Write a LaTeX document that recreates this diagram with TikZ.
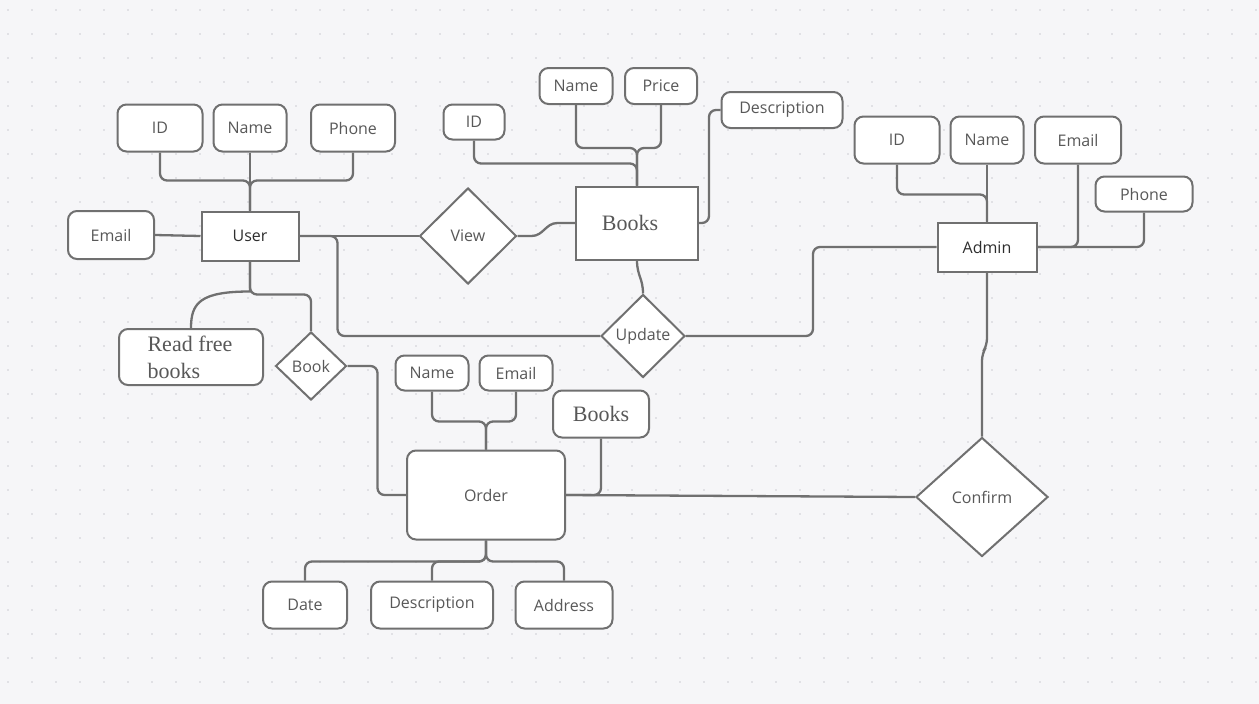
\documentclass[tikz,border=0pt]{standalone}
\usepackage{fontspec}
\setmainfont{Open Sans}
\newfontfamily\serifb{Liberation Serif}
\usetikzlibrary{shapes.geometric}
\definecolor{bgc}{RGB}{246,246,248}
\definecolor{dotc}{RGB}{205,205,210}
\definecolor{linec}{RGB}{112,112,112}
\definecolor{txtc}{RGB}{88,88,88}
\definecolor{darktxt}{RGB}{45,45,45}
\pgfdeclarelayer{bg}
\pgfdeclarelayer{wires}
\pgfsetlayers{bg,wires,main}
\tikzset{
  base/.style={draw=linec, line width=2pt, fill=white, inner sep=0pt, text=txtc,
    font=\fontsize{16}{19}\selectfont},
  attr/.style={base, rectangle, rounded corners=9pt},
  ent/.style={base, rectangle, text=darktxt},
  rel/.style={base, diamond},
  conn/.style={draw=linec, line width=2.3pt, rounded corners=7pt},
  serifbig/.style={font=\serifb\fontsize{22}{27}\selectfont}
}
\begin{document}
\begin{tikzpicture}[x=1pt,y=-1pt]
\useasboundingbox (0,0) rectangle (1259,704);
\begin{pgfonlayer}{bg}
  \fill[bgc] (0,0) rectangle (1259,704);
  \foreach \i in {0,...,52}{
    \foreach \j in {0,...,29}{
      \fill[dotc] (\i*24+8,\j*24+10) circle (0.9pt);
    }
  }
\end{pgfonlayer}

% ---- User side ----
\node[attr, minimum width=85pt, minimum height=47pt] (uid) at (160,128) {ID};
\node[attr, minimum width=73pt, minimum height=47pt] (uname) at (250,128) {Name};
\node[attr, minimum width=84pt, minimum height=47pt] (uphone) at (353,128) {Phone};
\node[attr, minimum width=86pt, minimum height=48pt] (uemail) at (111,235) {Email};
\node[ent, minimum width=97pt, minimum height=49pt] (user) at (250,236) {User};
\node[attr, minimum width=144pt, minimum height=56pt, serifbig, align=left] (read) at (191,357) {Read free\hspace*{2pt}\\books};
\node[rel, minimum width=71pt, minimum height=68pt] (book) at (311,366) {Book};

% ---- Books side ----
\node[attr, minimum width=61pt, minimum height=35pt] (bid) at (474,122) {ID};
\node[attr, minimum width=73pt, minimum height=36pt] (bname) at (576,86) {Name};
\node[attr, minimum width=72pt, minimum height=36pt] (bprice) at (661,86) {Price};
\node[attr, minimum width=121pt, minimum height=36pt] (bdesc) at (782,110) {Description};
\node[ent, minimum width=122pt, minimum height=73pt, serifbig, text=txtc] (books) at (637,223) {\hspace*{-14pt}Books};
\node[rel, minimum width=97pt, minimum height=96pt] (view) at (468,236) {View};
\node[rel, minimum width=84pt, minimum height=83pt] (update) at (643,336) {Update};

% ---- Admin side ----
\node[attr, minimum width=85pt, minimum height=47pt] (aid) at (897,140) {ID};
\node[attr, minimum width=73pt, minimum height=47pt] (aname) at (987,140) {Name};
\node[attr, minimum width=86pt, minimum height=47pt] (aemail) at (1078,140) {Email};
\node[attr, minimum width=97pt, minimum height=35pt] (aphone) at (1144,194) {Phone};
\node[ent, minimum width=99pt, minimum height=49pt] (admin) at (987,247) {Admin};
\node[rel, minimum width=132pt, minimum height=119pt] (confirm) at (982,497) {Confirm};

% ---- Order side ----
\node[attr, minimum width=73pt, minimum height=35pt] (oname) at (432,373) {Name};
\node[attr, minimum width=73pt, minimum height=35pt] (oemail) at (516,373) {Email};
\node[attr, minimum width=96pt, minimum height=47pt, serifbig] (obooks) at (601,414) {Books};
\node[attr, minimum width=158pt, minimum height=89pt] (order) at (486,495) {Order};
\node[attr, minimum width=84pt, minimum height=47pt] (odate) at (305,605) {Date};
\node[attr, minimum width=122pt, minimum height=47pt] (odesc) at (432,605) {Description};
\node[attr, minimum width=97pt, minimum height=47pt] (oaddr) at (564,605) {Address};

\begin{pgfonlayer}{wires}
  % user
  \draw[conn] (uid.south) -- ++(0,28) -| (user.north);
  \draw[conn] (uname.south) -- (user.north);
  \draw[conn] (uphone.south) -- ++(0,28) -| (user.north);
  \draw[conn] (uemail.east) -- (user.west);
  \draw[conn, sharp corners] (user.south) -- ++(0,30) .. controls +(-50,0) and +(0,-25) .. (read.north);
  \draw[conn] (user.south) -- ++(0,33) -| (book.north);
  \draw[conn] (user.east) -- (view.west);
  \draw[conn] (user.east) -- ++(38,0) |- (update.west);
  % books
  \draw[conn] (bid.south) -- ++(0,23) -| (books.north);
  \draw[conn] (bname.south) -- ++(0,43) -| (books.north);
  \draw[conn] (bprice.south) -- ++(0,43) -| (books.north);
  \draw[conn] (books.east) -- ++(10,0) |- (bdesc.west);
  \draw[conn, sharp corners] (view.east) -- ++(14,0) .. controls +(12,0) and +(-12,0) .. ++(26,-13) -- (books.west);
  \draw[conn, sharp corners] (books.south) .. controls +(0,15) and +(0,-15) .. (update.north);
  \draw[conn] (update.east) -- ++(127,0) |- (admin.west);
  % admin
  \draw[conn] (aid.south) -- ++(0,30) -| (admin.north);
  \draw[conn] (aname.south) -- (admin.north);
  \draw[conn] (aemail.south) |- (admin.east);
  \draw[conn] (aphone.south) |- (admin.east);
  \draw[conn] (admin.south) -- ++(0,73) -- ++(-5,8) -- (confirm.north);
  % order
  \draw[conn] (oname.south) -- ++(0,30) -| (order.north);
  \draw[conn] (oemail.south) -- ++(0,30) -| (order.north);
  \draw[conn] (order.south) -- ++(0,21) -| (odate.north);
  \draw[conn] (order.south) -- ++(0,21) -| (odesc.north);
  \draw[conn] (order.south) -- ++(0,21) -| (oaddr.north);
  \draw[conn] (book.east) -- ++(30,0) |- (order.west);
  \draw[conn] (obooks.south) |- (order.east);
  \draw[conn] (order.east) -- (confirm.west);
\end{pgfonlayer}
\end{tikzpicture}
\end{document}
